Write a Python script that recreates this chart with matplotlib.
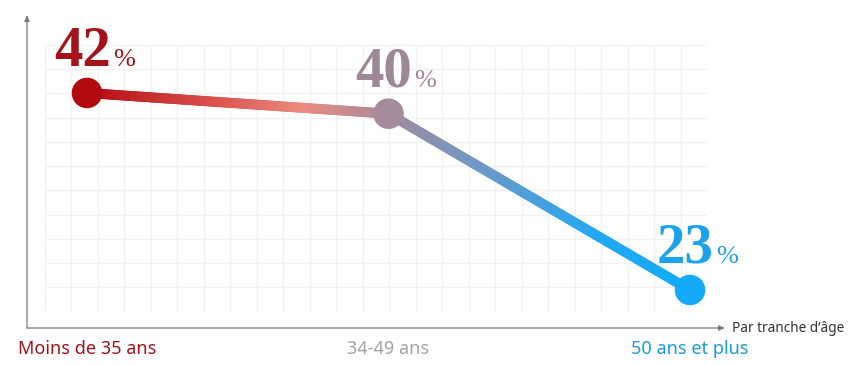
import numpy as np
import matplotlib
matplotlib.use("Agg")
import matplotlib.pyplot as plt
from matplotlib.collections import LineCollection
from matplotlib.colors import LinearSegmentedColormap

# données
categories = ["Moins de 35 ans", "34-49 ans", "50 ans et plus"]
values = [42, 40, 23]
point_colors = ["#b30a10", "#a58b9c", "#14aaf7"]
label_colors = ["#a4121a", "#9e8796", "#1aa3ea"]
cat_colors = ["#a0141a", "#a3a3a3", "#1a9be0"]
axis_title = "Par tranche d\u2019\u00e2ge"

# dégradés des deux segments
cmap1 = LinearSegmentedColormap.from_list(
    "seg1", [(0, "#b30a10"), (0.45, "#dc5550"), (0.72, "#ea8a80"), (1, "#a88c9c")])
cmap2 = LinearSegmentedColormap.from_list(
    "seg2", [(0, "#a38a9e"), (0.3, "#6f98c6"), (0.7, "#22a8f2"), (1, "#10acfa")])

W, H = 858, 365
fig = plt.figure(figsize=(W / 100, H / 100), dpi=100)

# grille de fond
bg = fig.add_axes([45 / W, (H - 311.7) / H, 662 / W, 266.7 / H])
bg.set_xlim(0, 25)
bg.set_ylim(0, 11)
bg.set_xticks(range(26))
bg.set_yticks(range(12))
bg.grid(True, color="#f1f1f1", linewidth=1)
bg.tick_params(length=0, labelbottom=False, labelleft=False)
for s in bg.spines.values():
    s.set_visible(False)
bg.patch.set_alpha(0)

# axes principaux
ax = fig.add_axes([27 / W, (H - 328) / H, 698 / W, 313 / H])
ax.patch.set_alpha(0)
ax.set_xlim(-0.199, 2.116)
ax.set_ylim(19.335, 49.52)
for s in ax.spines.values():
    s.set_visible(False)

x = np.arange(len(values))
for i, cmap in enumerate([cmap1, cmap2]):
    t = np.linspace(0, 1, 120)
    xs = x[i] + t * (x[i + 1] - x[i])
    ys = values[i] + t * (values[i + 1] - values[i])
    pts = np.column_stack([xs, ys]).reshape(-1, 1, 2)
    segs = np.concatenate([pts[:-1], pts[1:]], axis=1)
    lc = LineCollection(segs, colors=cmap(t[:-1]), linewidth=7.2,
                        capstyle="round", zorder=2)
    ax.add_collection(lc)

ax.scatter(x, values, s=22 ** 2, c=point_colors, zorder=3, linewidths=0)

for xi, v, c in zip(x, values, label_colors):
    ax.annotate(str(v), (xi, v), xytext=(24, 27), textcoords="offset pixels",
                ha="right", va="baseline", fontsize=41, fontweight="bold",
                family="Liberation Serif", color=c)
    ax.annotate("%", (xi, v), xytext=(26, 27), textcoords="offset pixels",
                ha="left", va="baseline", fontsize=19,
                family="Liberation Serif", color=c)

# étiquettes de catégories
ax.set_xticks(x)
ax.set_xticklabels(categories, fontsize=13, family="Noto Sans")
for lbl, c in zip(ax.get_xticklabels(), cat_colors):
    lbl.set_color(c)
ax.tick_params(axis="x", length=0, pad=9)
ax.set_yticks([])

# flèches des axes
arrow = dict(arrowstyle="-|>,head_length=0.35,head_width=0.15", color="#7a7a7a",
             linewidth=0.9, shrinkA=0, shrinkB=0)
ax.annotate("", xy=(1, 0), xytext=(0, 0), xycoords="axes fraction", arrowprops=arrow)
ax.annotate("", xy=(0, 1), xytext=(0, 0), xycoords="axes fraction", arrowprops=arrow)
ax.annotate(axis_title, (1, 0), xycoords="axes fraction", xytext=(7, 0),
            textcoords="offset pixels", ha="left", va="center", fontsize=9.8,
            family="Noto Sans", color="#333333")

fig.savefig("out.png", dpi=100)
